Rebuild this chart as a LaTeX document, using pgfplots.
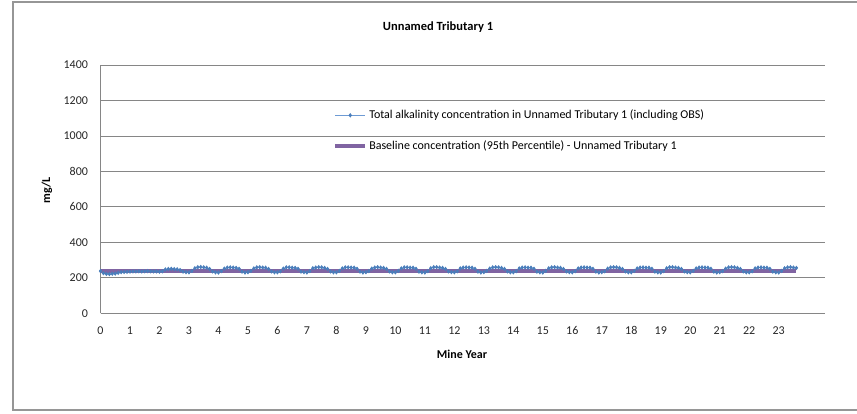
\documentclass[border=0pt]{standalone}
\usepackage{fontspec}
\setmainfont{Carlito}
\usepackage{pgfplots}
\pgfplotsset{compat=1.18}
\definecolor{serblue}{RGB}{74,126,187}
\definecolor{serline}{RGB}{110,155,212}
\definecolor{basepurple}{RGB}{128,100,162}
\definecolor{gridgray}{RGB}{134,134,134}
\definecolor{framegray}{RGB}{150,150,150}
\begin{document}
\begin{tikzpicture}
\useasboundingbox (0pt,0pt) rectangle (857pt,-414pt);
\draw[framegray, line width=1.2pt] (13pt,-2pt) rectangle (863pt,-410pt);
\node[font=\fontsize{12.5}{14}\selectfont\bfseries] at (438pt,-27pt) {Unnamed Tributary 1};
\node[font=\fontsize{12}{14}\selectfont\bfseries, rotate=90] at (47pt,-190pt) {mg/L};
\node[font=\fontsize{12}{14}\selectfont\bfseries] at (462pt,-354pt) {Mine Year};
\begin{axis}[
  at={(100.5pt,-313.3pt)}, anchor=south west,
  scale only axis, width=724.5pt, height=248.3pt,
  xmin=0, xmax=24.57, ymin=0, ymax=1400,
  xtick={0,1,...,23}, ytick={0,200,...,1400},
  ymajorgrids, grid style={gridgray, line width=0.8pt},
  axis x line=bottom, axis y line=left,
  axis line style={gridgray, line width=1.5pt, -},
  major tick length=0pt,
  tick label style={font=\fontsize{12}{14}\selectfont, text=black!85},
  xticklabel style={yshift=-9pt, text height=8.5pt, text depth=0pt},
  yticklabel style={xshift=-9pt},
  /pgf/number format/assume math mode=true,
  /pgf/number format/1000 sep={},
  legend style={draw=none, fill=none, at={(0.321,0.827)}, anchor=north west,
    font=\fontsize{12}{14}\selectfont, row sep=16pt, inner sep=0pt},
  legend cell align=left,
  legend image code/.code={\draw[mark repeat=2,mark phase=2,#1] plot coordinates {(0pt,0pt) (15pt,0pt) (30pt,0pt)};},
]
\addplot[serline, line width=0.8pt, mark=diamond*, mark size=1.6pt, mark options={serblue, fill=serblue}] coordinates {
(0.0,238)(0.1,226)(0.2,222)(0.3,221)(0.4,223)(0.5,224)(0.6,228)(0.7,232)(0.8,233)(0.9,234)
(1.0,235)(1.1,236)(1.2,236)(1.3,237)(1.4,236)(1.5,237)(1.6,238)(1.7,237)(1.8,236)(1.9,236)
(2.0,235)(2.1,237)(2.2,247)(2.3,250)(2.4,251)(2.5,249)(2.6,248)(2.7,244)(2.8,235)(2.9,232)
(3.0,231)(3.1,239)(3.2,254)(3.3,260)(3.4,261)(3.5,259)(3.6,257)(3.7,250)(3.8,236)(3.9,231)
(4.0,230)(4.1,238)(4.2,252)(4.3,258)(4.4,259)(4.5,258)(4.6,256)(4.7,251)(4.8,235)(4.9,230)
(5.0,232)(5.1,239)(5.2,253)(5.3,259)(5.4,260)(5.5,258)(5.6,257)(5.7,250)(5.8,236)(5.9,231)
(6.0,231)(6.1,237)(6.2,252)(6.3,259)(6.4,259)(6.5,257)(6.6,256)(6.7,251)(6.8,235)(6.9,232)
(7.0,230)(7.1,238)(7.2,254)(7.3,258)(7.4,260)(7.5,259)(7.6,256)(7.7,250)(7.8,236)(7.9,231)
(8.0,231)(8.1,239)(8.2,253)(8.3,259)(8.4,259)(8.5,258)(8.6,257)(8.7,251)(8.8,235)(8.9,230)
(9.0,232)(9.1,238)(9.2,252)(9.3,258)(9.4,260)(9.5,258)(9.6,256)(9.7,250)(9.8,236)(9.9,231)
(10.0,231)(10.1,239)(10.2,253)(10.3,259)(10.4,259)(10.5,257)(10.6,257)(10.7,251)(10.8,235)(10.9,231)
(11.0,230)(11.1,238)(11.2,254)(11.3,260)(11.4,260)(11.5,258)(11.6,256)(11.7,250)(11.8,236)(11.9,232)
(12.0,231)(12.1,237)(12.2,253)(12.3,258)(12.4,259)(12.5,258)(12.6,257)(12.7,251)(12.8,235)(12.9,230)
(13.0,232)(13.1,239)(13.2,252)(13.3,259)(13.4,260)(13.5,259)(13.6,256)(13.7,250)(13.8,236)(13.9,231)
(14.0,231)(14.1,238)(14.2,253)(14.3,258)(14.4,259)(14.5,257)(14.6,257)(14.7,251)(14.8,235)(14.9,231)
(15.0,230)(15.1,239)(15.2,254)(15.3,259)(15.4,260)(15.5,258)(15.6,256)(15.7,250)(15.8,236)(15.9,232)
(16.0,231)(16.1,238)(16.2,253)(16.3,258)(16.4,259)(16.5,258)(16.6,257)(16.7,251)(16.8,235)(16.9,230)
(17.0,232)(17.1,237)(17.2,252)(17.3,259)(17.4,260)(17.5,259)(17.6,256)(17.7,250)(17.8,236)(17.9,231)
(18.0,231)(18.1,239)(18.2,253)(18.3,258)(18.4,259)(18.5,257)(18.6,257)(18.7,251)(18.8,235)(18.9,231)
(19.0,230)(19.1,238)(19.2,254)(19.3,260)(19.4,260)(19.5,258)(19.6,256)(19.7,250)(19.8,236)(19.9,232)
(20.0,231)(20.1,239)(20.2,253)(20.3,258)(20.4,259)(20.5,258)(20.6,257)(20.7,251)(20.8,235)(20.9,230)
(21.0,232)(21.1,238)(21.2,252)(21.3,259)(21.4,260)(21.5,259)(21.6,256)(21.7,250)(21.8,236)(21.9,231)
(22.0,231)(22.1,237)(22.2,253)(22.3,258)(22.4,259)(22.5,257)(22.6,257)(22.7,251)(22.8,235)(22.9,231)
(23.0,230)(23.1,239)(23.2,254)(23.3,259)(23.4,260)(23.5,258)(23.6,256)
};
\addlegendentry{Total alkalinity concentration in Unnamed Tributary 1 (including OBS)}
\addplot[basepurple, line width=4pt] coordinates {(0,238) (23.6,238)};
\addlegendentry{Baseline concentration (95th Percentile) - Unnamed Tributary 1}
\end{axis}
\end{tikzpicture}
\end{document}
